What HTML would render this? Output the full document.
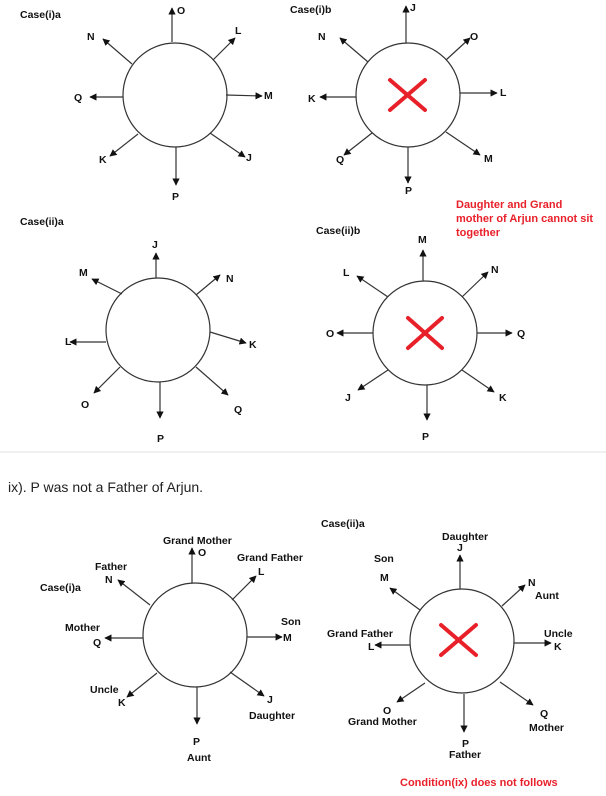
<!DOCTYPE html>
<html><head><style>
html,body{margin:0;padding:0;background:#fff;}
svg{display:block}
text{font-family:"Liberation Sans",Arial,sans-serif;font-weight:bold;font-size:10.5px;fill:#111}
.r{fill:#e8202a;font-size:11px}
</style></head><body>
<svg width="606" height="796" viewBox="0 0 606 796" xmlns="http://www.w3.org/2000/svg">
<defs><marker id="a" viewBox="0 0 10 10" refX="9" refY="5" markerWidth="6" markerHeight="6" orient="auto"><path d="M0,0L10,5L0,10z" fill="#111"/></marker></defs>
<g stroke="#333" stroke-width="1.2" fill="none">
<!-- D1 -->
<circle cx="175" cy="95" r="52"/>
<g marker-end="url(#a)">
<line x1="172" y1="42" x2="172" y2="8"/><line x1="213" y1="60" x2="235" y2="38"/>
<line x1="226" y1="95" x2="262" y2="96"/><line x1="210" y1="133" x2="245" y2="157"/>
<line x1="176" y1="147" x2="176" y2="185"/><line x1="138" y1="134" x2="110" y2="156"/>
<line x1="123" y1="97" x2="90" y2="97"/><line x1="132" y1="64" x2="103" y2="39"/>
</g>
<!-- D2 -->
<circle cx="408" cy="95" r="52"/>
<g marker-end="url(#a)">
<line x1="406" y1="43" x2="406" y2="6"/><line x1="446" y1="60" x2="470" y2="38"/>
<line x1="460" y1="93" x2="497" y2="93"/><line x1="446" y1="132" x2="480" y2="155"/>
<line x1="408" y1="147" x2="408" y2="183"/><line x1="372" y1="133" x2="344" y2="155"/>
<line x1="356" y1="97" x2="320" y2="97"/><line x1="368" y1="62" x2="340" y2="38"/>
</g>
<!-- D3 -->
<circle cx="158" cy="330" r="52"/>
<g marker-end="url(#a)">
<line x1="156" y1="278" x2="156" y2="253"/><line x1="196" y1="295" x2="220" y2="275"/>
<line x1="210" y1="332" x2="246" y2="343"/><line x1="196" y1="367" x2="228" y2="395"/>
<line x1="160" y1="382" x2="160" y2="418"/><line x1="120" y1="367" x2="94" y2="393"/>
<line x1="106" y1="342" x2="70" y2="342"/><line x1="122" y1="294" x2="92" y2="279"/>
</g>
<!-- D4 -->
<circle cx="425" cy="333" r="52"/>
<g marker-end="url(#a)">
<line x1="423" y1="281" x2="423" y2="250"/><line x1="462" y1="297" x2="488" y2="272"/>
<line x1="477" y1="333" x2="512" y2="333"/><line x1="462" y1="370" x2="494" y2="392"/>
<line x1="427" y1="385" x2="427" y2="420"/><line x1="388" y1="370" x2="358" y2="390"/>
<line x1="373" y1="333" x2="337" y2="333"/><line x1="388" y1="297" x2="357" y2="276"/>
</g>
<!-- D5 -->
<circle cx="195" cy="635" r="52"/>
<g marker-end="url(#a)">
<line x1="192" y1="583" x2="192" y2="548"/><line x1="232" y1="600" x2="256" y2="576"/>
<line x1="247" y1="637" x2="282" y2="637"/><line x1="230" y1="672" x2="264" y2="696"/>
<line x1="197" y1="687" x2="197" y2="724"/><line x1="157" y1="673" x2="127" y2="697"/>
<line x1="143" y1="638" x2="105" y2="638"/><line x1="150" y1="605" x2="118" y2="580"/>
</g>
<!-- D6 -->
<circle cx="462" cy="641" r="52"/>
<g marker-end="url(#a)">
<line x1="460" y1="589" x2="460" y2="555"/><line x1="502" y1="606" x2="525" y2="585"/>
<line x1="514" y1="643" x2="551" y2="643"/><line x1="500" y1="682" x2="533" y2="705"/>
<line x1="464" y1="694" x2="464" y2="732"/><line x1="425" y1="683" x2="397" y2="702"/>
<line x1="410" y1="645" x2="375" y2="645"/><line x1="420" y1="610" x2="390" y2="588"/>
</g>
</g>
<g stroke="#e8202a" stroke-width="4" stroke-linecap="round">
<line x1="390" y1="80" x2="425" y2="110"/><line x1="390" y1="110" x2="425" y2="80"/>
<line x1="408" y1="318" x2="442" y2="348"/><line x1="408" y1="348" x2="442" y2="318"/>
<line x1="441" y1="625" x2="476" y2="655"/><line x1="441" y1="655" x2="476" y2="625"/>
</g>
<line x1="0" y1="452" x2="606" y2="452" stroke="#e2e2e2" stroke-width="1"/>
<!-- labels D1 -->
<text x="20" y="18">Case(i)a</text>
<text x="177" y="14">O</text><text x="235" y="34">L</text><text x="264" y="99">M</text>
<text x="246" y="161">J</text><text x="172" y="200">P</text><text x="99" y="163">K</text>
<text x="74" y="101">Q</text><text x="87" y="40">N</text>
<!-- D2 -->
<text x="290" y="13">Case(i)b</text>
<text x="410" y="11">J</text><text x="470" y="40">O</text><text x="500" y="96">L</text>
<text x="484" y="162">M</text><text x="405" y="194">P</text><text x="336" y="163">Q</text>
<text x="308" y="102">K</text><text x="318" y="40">N</text>
<text class="r" x="456" y="208">Daughter  and Grand</text>
<text class="r" x="456" y="222">mother of Arjun cannot sit</text>
<text class="r" x="456" y="236">together</text>
<!-- D3 -->
<text x="20" y="225">Case(ii)a</text>
<text x="152" y="248">J</text><text x="226" y="282">N</text><text x="249" y="348">K</text>
<text x="234" y="413">Q</text><text x="157" y="442">P</text><text x="81" y="408">O</text>
<text x="65" y="345">L</text><text x="79" y="276">M</text>
<!-- D4 -->
<text x="316" y="234">Case(ii)b</text>
<text x="418" y="243">M</text><text x="491" y="273">N</text><text x="517" y="337">Q</text>
<text x="499" y="401">K</text><text x="422" y="440">P</text><text x="345" y="401">J</text>
<text x="326" y="337">O</text><text x="343" y="276">L</text>
<text x="8" y="492" style="font-weight:normal;font-size:14px;fill:#222">ix). P was not a Father of Arjun.</text>
<!-- D5 -->
<text x="40" y="591">Case(i)a</text>
<text x="163" y="544">Grand Mother</text><text x="198" y="556">O</text>
<text x="237" y="561">Grand Father</text><text x="258" y="575">L</text>
<text x="281" y="625">Son</text><text x="283" y="641">M</text>
<text x="267" y="703">J</text><text x="249" y="719">Daughter</text>
<text x="193" y="745">P</text><text x="187" y="761">Aunt</text>
<text x="90" y="693">Uncle</text><text x="118" y="706">K</text>
<text x="65" y="631">Mother</text><text x="93" y="646">Q</text>
<text x="95" y="570">Father</text><text x="105" y="583">N</text>
<!-- D6 -->
<text x="321" y="527">Case(ii)a</text>
<text x="442" y="540">Daughter</text><text x="457" y="551">J</text>
<text x="374" y="562">Son</text><text x="380" y="581">M</text>
<text x="528" y="586">N</text><text x="535" y="599">Aunt</text>
<text x="544" y="637">Uncle</text><text x="554" y="650">K</text>
<text x="540" y="717">Q</text><text x="529" y="731">Mother</text>
<text x="462" y="747">P</text><text x="449" y="758">Father</text>
<text x="383" y="714">O</text><text x="348" y="725">Grand Mother</text>
<text x="327" y="637">Grand Father</text><text x="368" y="650">L</text>
<text class="r" x="400" y="786">Condition(ix) does not follows</text>
</svg>
</body></html>
